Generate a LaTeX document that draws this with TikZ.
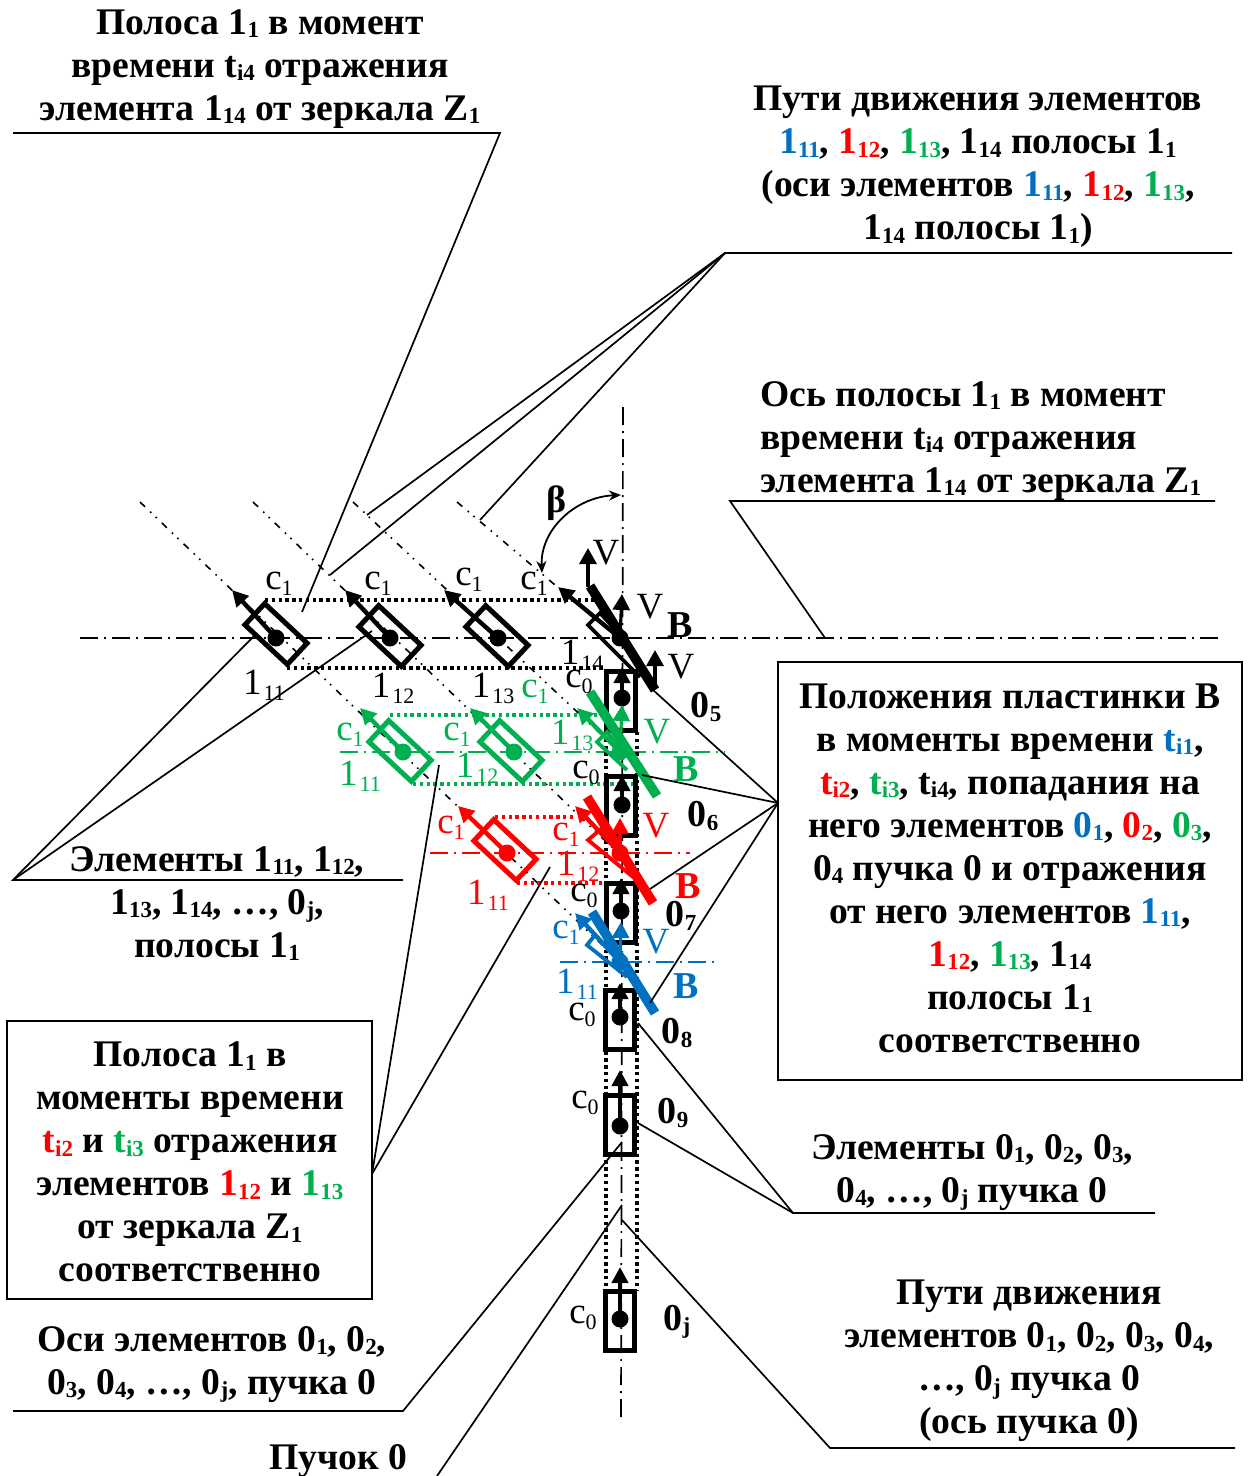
\documentclass[tikz,border=0pt]{standalone}
\usepackage{fontspec}
\setmainfont{Liberation Serif}
\usetikzlibrary{arrows.meta}
\definecolor{cb}{HTML}{0070C0}
\definecolor{cr}{HTML}{FF0000}
\definecolor{cg}{HTML}{00B050}
\newcommand\su[1]{\raisebox{-0.2ex}{\fontsize{11.5}{11.5}\selectfont #1}}
\newcommand\sv[1]{\raisebox{-0.35ex}{\fontsize{11}{11}\selectfont #1}}
\newcommand\bl[1]{\textcolor{cb}{1\su{#1}}}
\newcommand\rd[1]{\textcolor{cr}{1\su{#1}}}
\newcommand\gr[1]{\textcolor{cg}{1\su{#1}}}
\newcommand\xx[1]{1\su{#1}}
\newcommand\nn[1]{0\su{#1}}
\newcommand\el[1]{1\kern1pt\sv{#1}}
\newcommand\cc[1]{c\sv{#1}}
\tikzset{
 x=0.5pt,y=-0.5pt,
 txt/.style={font=\fontsize{18.8}{21.5}\selectfont\bfseries,align=center,inner sep=0pt,text depth=0pt},
 lbl/.style={font=\fontsize{18.5}{18.5}\selectfont,inner sep=0pt},
 blb/.style={font=\fontsize{19}{19}\selectfont\bfseries,inner sep=0pt},
 lead/.style={line width=0.85pt,black},
 axish/.style={line width=0.85pt,dash pattern=on 9pt off 3pt on 1pt off 3pt},
 axiss/.style={line width=0.8pt,dash pattern=on 3.5pt off 3.5pt on 0.8pt off 3pt on 0.8pt off 3.5pt},
 dotl/.style={line width=1.7pt,dash pattern=on 1.7pt off 1.7pt},
 velem/.style={draw=black,line width=2.7pt,minimum width=14.5pt,minimum height=29.5pt,inner sep=0pt},
 relem/.style={draw=#1,line width=2.5pt,minimum width=29pt,minimum height=14.5pt,inner sep=0pt,rotate=-43},
 dotn/.style={fill=#1,circle,inner sep=0pt,minimum size=8.5pt},
 arw/.style={line width=2.2pt,draw=#1,-{Triangle[length=8pt,width=8pt]}},
 thin arw/.style={line width=1.6pt,draw=#1,-{Triangle[length=8pt,width=8.5pt]}},
 plate/.style={line width=4.8pt,draw=#1},
 small/.style={line width=1.9pt,draw=#1},
 frame/.style={draw=black,line width=0.9pt,fill=none},
}
\begin{document}
\begin{tikzpicture}
\useasboundingbox (0,0) rectangle (1251,1476);
% axes
\draw[axish] (80,638) -- (1222,638);
\draw[axish,cg] (340,752) -- (725,752);
\draw[axish,cr] (430,853) -- (690,853);
\draw[axish,cb] (560,962) -- (715,962);
\draw[axish] (623,407) -- (621,1420);
\draw[axiss] (140,502) -- (620,962);
\draw[axiss] (253,502) -- (620,855);
\draw[axiss] (353,502) -- (620,752);
\draw[axiss] (457,502) -- (620,640);
% dotted
\draw[dotl] (265,600) -- (598,600);
\draw[dotl] (287,668) -- (606,668);
\draw[dotl,cg] (390,715) -- (597,715);
\draw[dotl,cg] (413,784) -- (637,784);
\draw[dotl,cr] (495,817) -- (573,817);
\draw[dotl,cr] (517,883) -- (637,883);
\draw[dotl] (606,732) -- (606,1291);
\draw[dotl] (637,732) -- (637,1291);
% vertical elements
\node[velem] (e5) at (621,701) {};
\node[velem] (e6) at (621,806) {};
\node[velem] (e7) at (621,913) {};
\node[velem] (e8) at (620,1020) {};
\node[velem] (e9) at (620,1125) {};
\node[velem] (ej) at (620,1321) {};
\node[dotn=black] (d5) at (622,698) {};
\node[dotn=black] (d6) at (622,805) {};
\node[dotn=black] (d7) at (621,911) {};
\node[dotn=black] (d8) at (620,1017) {};
\node[dotn=black] (d9) at (620,1126) {};
\node[dotn=black] (dj) at (620,1319) {};
\coordinate (a5) at (622,667);
\coordinate (a6) at (622,775);
\coordinate (a7) at (621,878);
\coordinate (a8) at (620,983);
\coordinate (a9) at (620,1070);
\coordinate (aj) at (620,1267);
\foreach \n in {5,6,7,8,9,j} \draw[arw=black] (d\n.center) -- (a\n);
% black strip
\node[relem=black] (k1) at (276,634) {};
\node[relem=black] (k2) at (390,636) {};
\node[relem=black] (k3) at (497,636) {};
\node[dotn=black] (kd1) at (276,638) {};
\node[dotn=black] (kd2) at (390,638) {};
\node[dotn=black] (kd3) at (498,638) {};
\node[dotn=black] (kd4) at (620,638) {};
\coordinate (kt1) at (232,590);
\coordinate (kt2) at (345,590);
\coordinate (kt3) at (444,590);
\coordinate (kt4) at (558,587);
\foreach \n in {1,2,3,4} \draw[arw=black] (kd\n.center) -- (kt\n);
\draw[small=black] (625,640) -- (600,613) -- (588,625) -- (640,677);
\coordinate (kv1a) at (588,587); \coordinate (kv1b) at (588,548);
\coordinate (kv2b) at (622,594);
\coordinate (kv3a) at (655,687); \coordinate (kv3b) at (655,650);
\draw[thin arw=black] (kv1a) -- (kv1b);
\draw[thin arw=black] (kd4.center) -- (kv2b);
\draw[thin arw=black] (kv3a) -- (kv3b);
\coordinate (kp1) at (590,586); \coordinate (kp2) at (655,690);
\draw[plate=black] (kp1) -- (kp2);
% green strip
\node[relem=cg] (g1) at (400,751) {};
\node[relem=cg] (g2) at (511,751) {};
\node[dotn=cg] (gd1) at (403,752) {};
\node[dotn=cg] (gd2) at (514,752) {};
\node[dotn=cg] (gd3) at (620,752) {};
\coordinate (gt1) at (360,708);
\coordinate (gt2) at (470,708);
\coordinate (gt3) at (577,708);
\foreach \n in {1,2,3} \draw[arw=cg] (gd\n.center) -- (gt\n);
\draw[small=cg] (625,755) -- (607,732) -- (597,742) -- (627,770);
\coordinate (gvb) at (622,705);
\draw[thin arw=cg] (gd3.center) -- (gvb);
\coordinate (gp1) at (590,692); \coordinate (gp2) at (657,796);
\draw[plate=cg] (gp1) -- (gp2);
% red strip
\node[relem=cr] (r1) at (505,850) {};
\node[dotn=cr] (rd1) at (507,853) {};
\node[dotn=cr] (rd2) at (620,853) {};
\coordinate (rt1) at (458,806);
\coordinate (rt2) at (575,806);
\draw[arw=cr] (rd1.center) -- (rt1);
\draw[arw=cr] (rd2.center) -- (rt2);
\draw[small=cr] (622,852) -- (600,830) -- (588,840) -- (633,877);
\coordinate (rvb) at (620,818);
\draw[thin arw=cr] (rd2.center) -- (rvb);
\coordinate (rp1) at (587,797); \coordinate (rp2) at (653,903);
\draw[plate=cr] (rp1) -- (rp2);
% blue strip
\node[dotn=cb] (bd1) at (620,962) {};
\coordinate (bt1) at (575,913);
\draw[arw=cb] (bd1.center) -- (bt1);
\draw[small=cb] (615,955) -- (595,935) -- (587,945) -- (627,977);
\coordinate (bvb) at (621,922);
\draw[thin arw=cb] (bd1.center) -- (bvb);
\coordinate (bp1) at (592,912); \coordinate (bp2) at (655,1013);
\draw[plate=cb] (bp1) -- (bp2);
% beta arc
\coordinate (ba) at (542,573); \coordinate (bb) at (621,495);
\draw[line width=0.9pt,{Stealth[length=6pt,width=5pt]}-{Stealth[length=6pt,width=5pt]}] (ba) .. controls (540,530) and (575,497) .. (bb);
% text labels
\node[txt] (t1) at (260,65) {Полоса \xx{1} в момент\\времени t\su{i4} отражения\\элемента \xx{14} от зеркала Z\su{1}};
\node[txt] (t2) at (978,163) {Пути движения элементов\\\bl{11}, \rd{12}, \gr{13}, \xx{14} полосы \xx{1}\\(оси элементов \bl{11}, \rd{12}, \gr{13},\\\xx{14} полосы \xx{1})};
\node[txt,align=left,anchor=west] (t3) at (760,437) {Ось полосы \xx{1} в момент\\времени t\su{i4} отражения\\элемента \xx{14} от зеркала Z\su{1}};
\node[txt] (t4) at (1010,868) {Положения пластинки B\\в моменты времени \textcolor{cb}{t\su{i1}},\\\textcolor{cr}{t\su{i2}}, \textcolor{cg}{t\su{i3}}, t\su{i4}, попадания на\\него элементов \textcolor{cb}{0\su{1}}, \textcolor{cr}{0\su{2}}, \textcolor{cg}{0\su{3}},\\0\su{4} пучка 0 и отражения\\от него элементов \bl{11},\\\rd{12}, \gr{13}, \xx{14}\\полосы \xx{1}\\соответственно};
\node[txt] (t5) at (217,902) {Элементы \xx{11}, \xx{12},\\\xx{13}, \xx{14}, \dots, 0\su{j},\\полосы \xx{1}};
\node[txt] (t6) at (190,1162) {Полоса \xx{1} в\\моменты времени\\\textcolor{cr}{t\su{i2}} и \textcolor{cg}{t\su{i3}} отражения\\элементов \rd{12} и \gr{13}\\от зеркала Z\su{1}\\соответственно};
\node[txt] (t7) at (212,1360) {Оси элементов \nn{1}, \nn{2},\\\nn{3}, \nn{4}, \dots, \nn{j}, пучка 0};
\node[txt] (t8) at (338,1457) {Пучок 0};
\node[txt] (t9) at (972,1168) {Элементы \nn{1}, \nn{2}, \nn{3},\\\nn{4}, \dots, \nn{j} пучка 0};
\node[txt] (t10) at (1029,1357) {Пути движения\\элементов \nn{1}, \nn{2}, \nn{3}, \nn{4},\\\dots, \nn{j} пучка 0\\(ось пучка 0)};
% frames
\node[frame,minimum width=232pt,minimum height=209pt,inner sep=0pt] (fr) at (1010,871) {};
\node[frame,minimum width=182.5pt,minimum height=139pt,inner sep=0pt] (fl) at (189.5,1160) {};
% hubs
\coordinate (h1) at (500,133); \coordinate (h1e) at (13,133); \coordinate (h1t) at (302,612);
\coordinate (h2) at (725,253); \coordinate (h2e) at (1232,253);
\coordinate (h2a) at (367,515); \coordinate (h2b) at (330,575); \coordinate (h2c) at (480,520);
\coordinate (h3) at (730,501); \coordinate (h3e) at (1215,501); \coordinate (h3t) at (825,638);
\coordinate (h4) at (13,880); \coordinate (h4e) at (403,880); \coordinate (h4a) at (255,635); \coordinate (h4b) at (372,631);
\coordinate (h5) at (778,803); \coordinate (h5a) at (653,690); \coordinate (h5b) at (642,775); \coordinate (h5c) at (650,889); \coordinate (h5d) at (650,1003);
\coordinate (h6) at (793,1213); \coordinate (h6e) at (1155,1213); \coordinate (h6a) at (638,1023); \coordinate (h6b) at (638,1123);
\coordinate (h7) at (372,1174); \coordinate (h7a) at (439,765); \coordinate (h7b) at (550,867);
\coordinate (h8) at (403,1411); \coordinate (h8e) at (13,1411); \coordinate (h8t) at (622,1142);
\coordinate (h9) at (437,1476); \coordinate (h9t) at (622,1205);
\coordinate (h10) at (830,1448); \coordinate (h10e) at (1235,1448); \coordinate (h10t) at (622,1220);
\draw[lead] (h1e) -- (h1) -- (h1t);
\draw[lead] (h2e) -- (h2) -- (h2a);
\draw[lead] (h2) -- (h2b);
\draw[lead] (h2) -- (h2c);
\draw[lead] (h3e) -- (h3) -- (h3t);
\draw[lead] (h4e) -- (h4) -- (h4a);
\draw[lead] (h4) -- (h4b);
\draw[lead] (h5) -- (h5a);
\draw[lead] (h5) -- (h5b);
\draw[lead] (h5) -- (h5c);
\draw[lead] (h5) -- (h5d);
\draw[lead] (h6e) -- (h6) -- (h6a);
\draw[lead] (h6) -- (h6b);
\draw[lead] (h7) -- (h7a);
\draw[lead] (h7) -- (h7b);
\draw[lead] (h8e) -- (h8) -- (h8t);
\draw[lead] (h9) -- (h9t);
\draw[lead] (h10e) -- (h10) -- (h10t);
% element labels: black
\node[lbl] (lk1) at (279,584) {\cc{1}};
\node[lbl] (lk2) at (378,584) {\cc{1}};
\node[lbl] (lk3) at (469,580) {\cc{1}};
\node[lbl] (lk4) at (534,584) {\cc{1}};
\node[lbl] (mk1) at (264,685) {\el{11}};
\node[lbl] (mk2) at (393,688) {\el{12}};
\node[lbl] (mk3) at (493,688) {\el{13}};
\node[lbl] (mk4) at (582,655) {\el{14}};
\node[lbl] (vk1) at (606,553) {V};
\node[lbl] (vk2) at (650,607) {V};
\node[lbl] (vk3) at (681,667) {V};
\node[blb] (bk) at (680,625) {B};
\node[lbl] (c05) at (579,682) {\cc{0}};
\node[lbl] (c06) at (586,773) {\cc{0}};
\node[lbl] (c07) at (584,896) {\cc{0}};
\node[lbl] (c08) at (582,1015) {\cc{0}};
\node[lbl] (c09) at (585,1103) {\cc{0}};
\node[lbl] (c0j) at (583,1318) {\cc{0}};
\node[blb] (n5) at (706,707) {\nn{5}};
\node[blb] (n6) at (703,816) {\nn{6}};
\node[blb] (n7) at (681,916) {\nn{7}};
\node[blb] (n8) at (677,1033) {\nn{8}};
\node[blb] (n9) at (673,1113) {\nn{9}};
\node[blb] (nj) at (677,1322) {\nn{j}};
% green labels
\begin{scope}[every node/.append style={text=cg}]
\node[lbl] (lg1) at (350,735) {\cc{1}};
\node[lbl] (lg2) at (457,735) {\cc{1}};
\node[lbl] (lg3) at (535,692) {\cc{1}};
\node[lbl] (mg1) at (360,776) {\el{11}};
\node[lbl] (mg2) at (477,768) {\el{12}};
\node[lbl] (mg3) at (572,735) {\el{13}};
\node[lbl] (vg) at (657,732) {V};
\node[blb] (bg) at (686,769) {B};
\end{scope}
% red labels
\begin{scope}[every node/.append style={text=cr}]
\node[lbl] (lr1) at (451,828) {\cc{1}};
\node[lbl] (lr2) at (566,835) {\cc{1}};
\node[lbl] (mr1) at (488,895) {\el{11}};
\node[lbl] (mr2) at (578,866) {\el{12}};
\node[lbl] (vr) at (656,826) {V};
\node[blb] (br) at (688,886) {B};
\end{scope}
% blue labels
\begin{scope}[every node/.append style={text=cb}]
\node[lbl] (lb1) at (566,933) {\cc{1}};
\node[lbl] (mb1) at (577,984) {\el{11}};
\node[lbl] (vb) at (656,942) {V};
\node[blb] (bb1) at (686,986) {B};
\end{scope}
\node[blb] (beta) at (557,503) {β};
\end{tikzpicture}
\end{document}
